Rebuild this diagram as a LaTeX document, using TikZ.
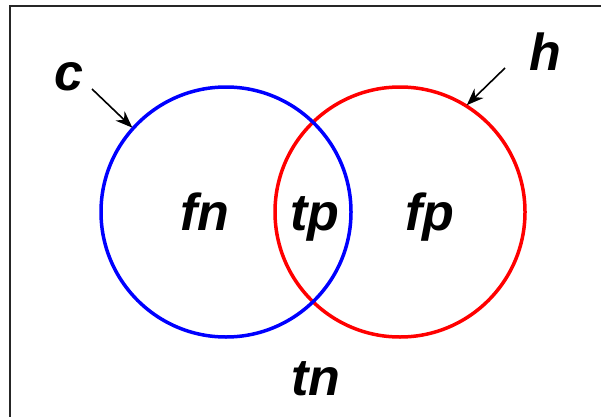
\documentclass[tikz,border=0pt]{standalone}
\usepackage{fontspec}
\setmainfont{Liberation Sans}
\usetikzlibrary{arrows.meta,calc}
\begin{document}
\begin{tikzpicture}[x=1pt,y=1pt,
  lbl/.style={font=\fontsize{52}{60}\selectfont\bfseries\itshape, inner sep=0pt, anchor=base},
  ring/.style={line width=3.5pt},
  pointer/.style={line width=1.6pt, -{Stealth[length=17pt,width=13pt]}}]
\useasboundingbox (0,0) rectangle (601,416);
\clip (0,0) rectangle (601,416);
\fill[white] (0,0) rectangle (601,416);
\draw[line width=2pt, black!85] (10,-20) -- (10,410) -- (620,410);
% circles
\draw[ring, red] (400,204) circle (125);
\draw[ring, blue] (226,204) circle (125);
\coordinate (cc) at (226,204);
\coordinate (hc) at (400,204);
% labels
\node[lbl] (c) at (69,326) {c};
\node[lbl] (h) at (545,346) {h};
\node[lbl] (fn) at (205,186) {fn};
\node[lbl] (tp) at (315,186) {tp};
\node[lbl] (fp) at (430,186) {fp};
\node[lbl] (tn) at (316,21) {tn};
% arrows
\coordinate (cs) at (92,327);
\coordinate (hs) at (505,348);
\draw[pointer] (cs) -- ($(cc)+(138:126)$);
\draw[pointer] (hs) -- ($(hc)+(58:126)$);
\end{tikzpicture}
\end{document}
